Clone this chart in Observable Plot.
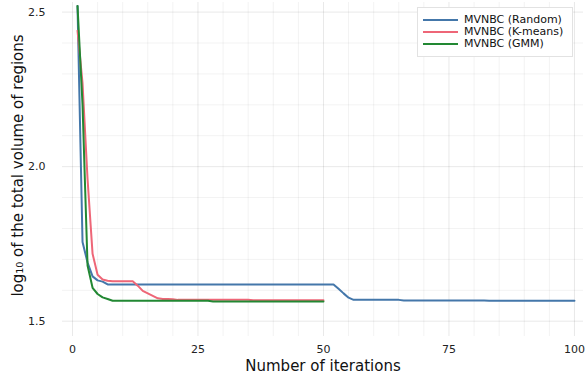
<!DOCTYPE html>
<html>
<head>
<meta charset="utf-8">
<script src="https://cdn.jsdelivr.net/npm/d3@7"></script>
<script src="https://cdn.jsdelivr.net/npm/@observablehq/plot@0.6"></script>
<style>
  body { margin: 0; background: #fff; }
  #wrap { position: relative; width: 587px; height: 379px; font-family: "DejaVu Sans", sans-serif; }
  #legend { position: absolute; left: 417px; top: 7px; width: 154px; padding: 6px 0 6px 0; border: 1px solid #e2e2e2; background: #fff; font-size: 11px; color: #111; }
  .row { height: 12px; line-height: 12px; display: flex; align-items: center; }
  .sw { width: 35px; height: 2px; margin: 0 6px 0 5px; }
</style>
</head>
<body>
<div id="wrap"></div>
<script>
const seriesNames = ["MVNBC (Random)", "MVNBC (K-means)", "MVNBC (GMM)"];
const seriesColors = ["#4477AA", "#EE6677", "#228833"];

const randomValues = [
  2.52, 1.756, 1.69, 1.645, 1.632, 1.628, 1.619, 1.619, 1.619, 1.619,
  1.619, 1.619, 1.619, 1.619, 1.619, 1.619, 1.619, 1.619, 1.619, 1.619,
  1.619, 1.619, 1.619, 1.619, 1.619, 1.619, 1.619, 1.619, 1.619, 1.619,
  1.619, 1.619, 1.619, 1.619, 1.619, 1.619, 1.619, 1.619, 1.619, 1.619,
  1.619, 1.619, 1.619, 1.619, 1.619, 1.619, 1.619, 1.619, 1.619, 1.619,
  1.619, 1.619, 1.605, 1.59, 1.576, 1.569, 1.569, 1.569, 1.569, 1.569,
  1.569, 1.569, 1.569, 1.569, 1.569, 1.567, 1.567, 1.567, 1.567, 1.567,
  1.567, 1.567, 1.567, 1.567, 1.567, 1.567, 1.567, 1.567, 1.567, 1.567,
  1.567, 1.567, 1.566, 1.566, 1.566, 1.566, 1.566, 1.566, 1.566, 1.566,
  1.566, 1.566, 1.566, 1.566, 1.566, 1.566, 1.566, 1.566, 1.566, 1.566
];
const kmeansValues = [
  2.44, 2.27, 1.96, 1.718, 1.65, 1.635, 1.631, 1.629, 1.629, 1.629,
  1.629, 1.629, 1.615, 1.598, 1.59, 1.582, 1.574, 1.572, 1.572, 1.571,
  1.569, 1.569, 1.569, 1.569, 1.569, 1.569, 1.569, 1.569, 1.569, 1.569,
  1.569, 1.569, 1.569, 1.569, 1.569, 1.568, 1.568, 1.568, 1.568, 1.568,
  1.568, 1.568, 1.568, 1.568, 1.568, 1.568, 1.568, 1.568, 1.568, 1.568
];
const gmmValues = [
  2.52, 2.2, 1.68, 1.608, 1.588, 1.577, 1.572, 1.566, 1.566, 1.566,
  1.566, 1.566, 1.566, 1.566, 1.566, 1.566, 1.566, 1.566, 1.566, 1.566,
  1.566, 1.566, 1.566, 1.566, 1.566, 1.566, 1.566, 1.564, 1.564, 1.564,
  1.564, 1.564, 1.564, 1.564, 1.564, 1.564, 1.564, 1.564, 1.564, 1.564,
  1.564, 1.564, 1.564, 1.564, 1.564, 1.564, 1.564, 1.564, 1.564, 1.564
];

const xTicks = [0, 25, 50, 75, 100];
const xMinorTicks = [5, 10, 15, 20, 30, 35, 40, 45, 55, 60, 65, 70, 80, 85, 90, 95];
const yTicks = [1.5, 2.0, 2.5];
const yMinorTicks = [1.6, 1.7, 1.8, 1.9, 2.1, 2.2, 2.3, 2.4];
const xLabel = "Number of iterations";
const yLabel = "log₁₀ of the total volume of regions";

const allValues = [randomValues, kmeansValues, gmmValues];
const data = [];
allValues.forEach((vals, s) => vals.forEach((v, i) => data.push({series: seriesNames[s], iter: i + 1, value: v})));

const chart = Plot.plot({
  width: 587,
  height: 379,
  marginLeft: 62,
  marginRight: 4,
  marginTop: 2,
  marginBottom: 43,
  style: {fontFamily: "DejaVu Sans, sans-serif", background: "#fff"},
  x: {domain: [-1.99, 101.8]},
  y: {domain: [1.4505, 2.531]},
  color: {domain: seriesNames, range: seriesColors},
  marks: [
    Plot.ruleX(xMinorTicks, {stroke: "#000", strokeOpacity: 0.05}),
    Plot.ruleX(xTicks, {stroke: "#000", strokeOpacity: 0.09}),
    Plot.ruleY(yMinorTicks, {stroke: "#000", strokeOpacity: 0.05}),
    Plot.ruleY(yTicks, {stroke: "#000", strokeOpacity: 0.09}),
    Plot.axisX({ticks: xTicks, tickSize: 0, tickPadding: 9, fontSize: 11, label: null, tickFormat: d3.format("d"), color: "#222"}),
    Plot.axisY({ticks: yTicks, tickSize: 0, tickPadding: 17, fontSize: 11, label: null, tickFormat: d3.format(".1f"), color: "#222"}),
    Plot.text([xLabel], {frameAnchor: "bottom", lineAnchor: "middle", textAnchor: "middle", dy: 30, fontSize: 15, fill: "#111"}),
    Plot.text([yLabel], {frameAnchor: "left", textAnchor: "middle", lineAnchor: "middle", rotate: -90, dx: -44, dy: -4, fontSize: 15, fill: "#111"}),
    Plot.line(data, {x: "iter", y: "value", z: "series", stroke: "series", strokeWidth: 2})
  ]
});

const wrap = document.getElementById("wrap");
wrap.appendChild(chart);

const legend = document.createElement("div");
legend.id = "legend";
seriesNames.forEach((name, i) => {
  const row = document.createElement("div");
  row.className = "row";
  const sw = document.createElement("span");
  sw.className = "sw";
  sw.style.background = seriesColors[i];
  const t = document.createElement("span");
  t.textContent = name;
  row.appendChild(sw);
  row.appendChild(t);
  legend.appendChild(row);
});
wrap.appendChild(legend);
</script>
</body>
</html>
